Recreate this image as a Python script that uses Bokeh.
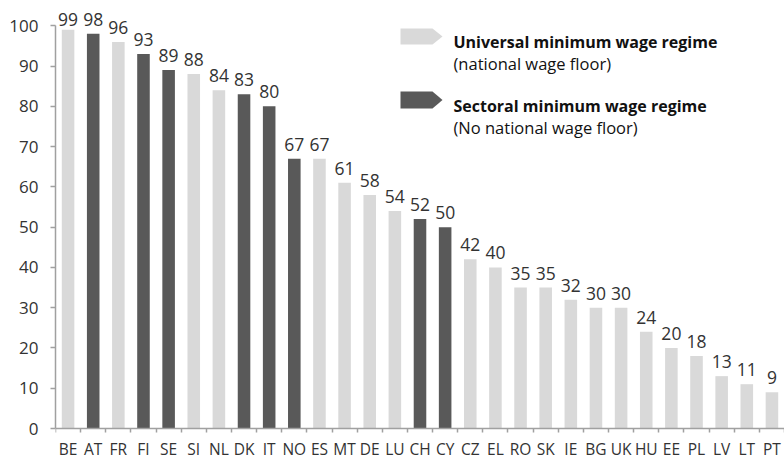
import numpy as np
from bokeh.plotting import figure
from bokeh.models import FixedTicker, ColumnDataSource
from bokeh.core.properties import value
from bokeh.embed import file_html
from bokeh.resources import INLINE

# ---- data ----
countries = ["BE", "AT", "FR", "FI", "SE", "SI", "NL", "DK", "IT", "NO", "ES", "MT", "DE", "LU",
             "CH", "CY", "CZ", "EL", "RO", "SK", "IE", "BG", "UK", "HU", "EE", "PL", "LV", "LT", "PT"]
coverage = [99, 98, 96, 93, 89, 88, 84, 83, 80, 67, 67, 61, 58, 54,
            52, 50, 42, 40, 35, 35, 32, 30, 30, 24, 20, 18, 13, 11, 9]
regime = ["U", "S", "U", "S", "S", "U", "U", "S", "S", "S", "U", "U", "U", "U",
          "S", "S", "U", "U", "U", "U", "U", "U", "U", "U", "U", "U", "U", "U", "U"]
y_ticks = [0, 10, 20, 30, 40, 50, 60, 70, 80, 90, 100]
legend_titles = ["Universal minimum wage regime", "Sectoral minimum wage regime"]
legend_notes = ["(national wage floor)", "(No national wage floor)"]

LIGHT = "#d9d9d9"
DARK = "#595959"
AXIS = "#a0a0a0"
TXT = "#333333"
FONT = "Open Sans"

n = len(countries)
PX_PER_UNIT = 4.027          # vertical pixels per percentage point
ZERO_PX = 428                # canvas row of the zero line
H = 459
Y_END = ZERO_PX / PX_PER_UNIT
Y_START = -(H - ZERO_PX) / PX_PER_UNIT

p = figure(width=784, height=H, output_backend="svg", toolbar_location=None,
           x_range=(0, n), y_range=(Y_START, Y_END),
           min_border_left=55, min_border_right=0, min_border_top=0, min_border_bottom=0)
p.outline_line_color = None
p.xgrid.visible = False
p.ygrid.visible = False
p.background_fill_color = "white"

pos = np.arange(n) + 0.5
colors = [DARK if r == "S" else LIGHT for r in regime]
src = ColumnDataSource(dict(x=pos, top=coverage, color=colors,
                            label=[str(v) for v in coverage],
                            ly=np.minimum(coverage, 98)))
p.vbar(x="x", top="top", bottom=0, width=0.5, fill_color="color", line_color=None, source=src)
p.text(x="x", y="ly", text="label", source=src, text_align="center",
       text_baseline="alphabetic", y_offset=-14.5,
       text_font=value(FONT), text_font_size="17.5px", text_color=TXT)

# x axis at y=0: labels at centres, ticks at category boundaries
xa = p.xaxis[0]
xa.fixed_location = 0
xa.ticker = FixedTicker(ticks=list(pos), minor_ticks=list(range(n + 1)))
xa.major_label_overrides = {float(x): c for x, c in zip(pos, countries)}
xa.major_tick_line_color = None
xa.major_tick_out = 0
xa.major_tick_in = 0
xa.minor_tick_out = 4
xa.minor_tick_in = 0
xa.minor_tick_line_color = AXIS
xa.minor_tick_line_width = 1.5
xa.axis_line_color = AXIS
xa.axis_line_width = 1.5
xa.major_label_standoff = 5
xa.major_label_text_font = FONT
xa.major_label_text_font_size = "15.5px"
xa.major_label_text_color = TXT

ya = p.yaxis[0]
ya.ticker = FixedTicker(ticks=y_ticks)
ya.bounds = (0, 100)
ya.major_tick_out = 5
ya.major_tick_in = 0
ya.major_tick_line_color = AXIS
ya.major_tick_line_width = 1.5
ya.minor_tick_line_color = None
ya.axis_line_color = AXIS
ya.axis_line_width = 1.5
ya.major_label_standoff = 12
ya.major_label_text_font = FONT
ya.major_label_text_font_size = "17px"
ya.major_label_text_color = TXT

# ---- custom legend (arrow swatches), positioned in canvas pixels ----
px_per_x = 729 / n
def dx(ix):
    return (ix - 55) / px_per_x
def dy(iy):
    return (ZERO_PX - iy) / PX_PER_UNIT

def arrow(cy, h):
    xs = [dx(400), dx(432), dx(442), dx(432), dx(400)]
    ys = [dy(cy - h / 2), dy(cy - h / 2), dy(cy), dy(cy + h / 2), dy(cy + h / 2)]
    return xs, ys

a1 = arrow(36, 16)
a2 = arrow(99.5, 17)
p.patches(xs=[a1[0], a2[0]], ys=[a1[1], a2[1]], fill_color=[LIGHT, DARK], line_color=None)

p.text(x=[dx(453), dx(453)], y=[dy(41), dy(105.5)], text=legend_titles,
       text_font=value(FONT), text_font_style="bold", text_font_size="16px",
       text_color="#111111", text_baseline="alphabetic", text_align="left")
p.text(x=[dx(453), dx(453)], y=[dy(62.5), dy(127)], text=legend_notes,
       text_font=value(FONT), text_font_size="16.5px",
       text_color="#111111", text_baseline="alphabetic", text_align="left")

open("out.html", "w").write(file_html(p, INLINE))
